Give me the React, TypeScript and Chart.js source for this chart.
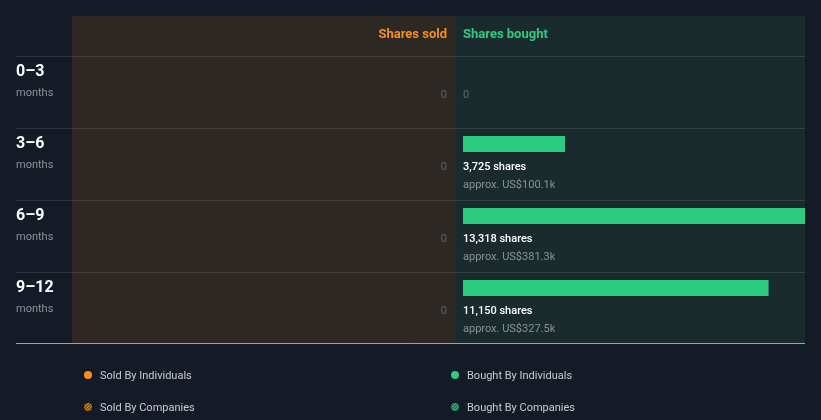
import React, { useEffect, useRef } from 'react';
import { Chart, registerables } from 'chart.js';

Chart.register(...registerables);

// ---- data ----
const periods = ['0–3', '3–6', '6–9', '9–12'];
const periodUnit = 'months';
const sharesSold = [0, 0, 0, 0];
const sharesBought = [0, 3725, 13318, 11150];
const boughtLabels = ['0', '3,725 shares', '13,318 shares', '11,150 shares'];
const boughtValues = ['', 'approx. US$100.1k', 'approx. US$381.3k', 'approx. US$327.5k'];
const headerSold = 'Shares sold';
const headerBought = 'Shares bought';
const legendSold = ['Sold By Individuals', 'Sold By Companies'];
const legendBought = ['Bought By Individuals', 'Bought By Companies'];

// ---- style ----
const BG = '#151b26';
const SOLD_BG = '#2d2823';
const BOUGHT_BG = '#1a2b2e';
const GREEN = '#2ecc80';
const ORANGE = '#f5901d';
const FONT = 'Roboto, "Noto Sans", sans-serif';
const X_MAX = 12480;
const BAR_OFFSET = 16 / 72;

const layoutPlugin = {
  id: 'layoutPlugin',
  beforeDatasetsDraw(chart: any) {
    const { ctx, chartArea } = chart;
    const y = chart.scales.y;
    const top = y.getPixelForValue(0);
    const bottom = y.getPixelForValue(periods.length);
    const headTop = top - 40;
    ctx.save();
    ctx.fillStyle = BG;
    ctx.fillRect(0, 0, chart.width, chart.height);
    // panels
    const mid = chartArea.left - 8;
    ctx.fillStyle = SOLD_BG;
    ctx.fillRect(72, headTop, mid - 72, bottom - headTop);
    ctx.fillStyle = BOUGHT_BG;
    ctx.fillRect(mid, headTop, chartArea.right - mid, bottom - headTop);
    // separators
    ctx.strokeStyle = 'rgba(255,255,255,0.11)';
    ctx.lineWidth = 1;
    for (let i = 0; i < periods.length; i++) {
      const py = Math.round(y.getPixelForValue(i)) + 0.5;
      ctx.beginPath();
      ctx.moveTo(16, py);
      ctx.lineTo(chartArea.right, py);
      ctx.stroke();
    }
    ctx.strokeStyle = '#9ea3a8';
    const by = Math.round(bottom) - 0.5;
    ctx.beginPath();
    ctx.moveTo(16, by);
    ctx.lineTo(chartArea.right, by);
    ctx.stroke();
    ctx.restore();
  },
  afterDatasetsDraw(chart: any) {
    const { ctx, chartArea } = chart;
    const y = chart.scales.y;
    const top = y.getPixelForValue(0);
    const mid = chartArea.left - 8;
    ctx.save();
    ctx.textBaseline = 'middle';
    // headers
    ctx.font = `bold 13px ${FONT}`;
    ctx.fillStyle = ORANGE;
    ctx.textAlign = 'right';
    ctx.fillText(headerSold, mid - 8, top - 21);
    ctx.fillStyle = GREEN;
    ctx.textAlign = 'left';
    ctx.fillText(headerBought, chartArea.left, top - 21);

    periods.forEach((p, i) => {
      const rt = y.getPixelForValue(i);
      ctx.textAlign = 'left';
      ctx.font = `bold 16px ${FONT}`;
      ctx.fillStyle = '#ffffff';
      ctx.fillText(p, 16, rt + 16);
      ctx.font = `11px ${FONT}`;
      ctx.fillStyle = '#8c9199';
      ctx.fillText(periodUnit, 16, rt + 37);

      // sold
      ctx.textAlign = 'right';
      ctx.fillStyle = '#5f6266';
      ctx.font = `11px ${FONT}`;
      ctx.fillText(String(sharesSold[i]), mid - 8, rt + 39);

      // bought
      ctx.textAlign = 'left';
      if (sharesBought[i] === 0) {
        ctx.fillStyle = '#5d6a6c';
        ctx.fillText(boughtLabels[i], chartArea.left, rt + 39);
      } else {
        ctx.fillStyle = '#ffffff';
        ctx.font = `500 11px ${FONT}`;
        ctx.fillText(boughtLabels[i], chartArea.left, rt + 39);
        ctx.fillStyle = '#8a9396';
        ctx.font = `11px ${FONT}`;
        ctx.fillText(boughtValues[i], chartArea.left, rt + 57);
      }
    });

    // legend
    const rows = [376, 408];
    const cols = [
      { x: 88, color: ORANGE, dark: '#4a3018', items: legendSold },
      { x: mid, color: GREEN, dark: '#1c4a36', items: legendBought },
    ];
    cols.forEach((c) => {
      c.items.forEach((label, k) => {
        const cy = rows[k] - 1;
        ctx.save();
        ctx.beginPath();
        ctx.arc(c.x, cy, 4, 0, Math.PI * 2);
        if (k === 0) {
          ctx.fillStyle = c.color;
          ctx.fill();
        } else {
          ctx.fillStyle = c.dark;
          ctx.fill();
          ctx.clip();
          ctx.strokeStyle = c.color;
          ctx.lineWidth = 1.2;
          for (let d = -6; d <= 6; d += 3) {
            ctx.beginPath();
            ctx.moveTo(c.x - 5 + d, cy + 5);
            ctx.lineTo(c.x + 5 + d, cy - 5);
            ctx.stroke();
          }
        }
        ctx.restore();
        ctx.fillStyle = '#c9ccd1';
        ctx.font = `11px ${FONT}`;
        ctx.textAlign = 'left';
        ctx.fillText(label, c.x + 12, rows[k]);
      });
    });
    ctx.restore();
  },
};

export default function App() {
  const ref = useRef<HTMLCanvasElement>(null);
  useEffect(() => {
    if (!ref.current) return;
    const chart = new Chart(ref.current, {
      type: 'bar',
      data: {
        datasets: [
          {
            label: headerBought,
            data: sharesBought.map((v, i) => ({ x: v, y: i + BAR_OFFSET })) as any,
            backgroundColor: (c: any) => (c.raw && c.raw.x > 0 ? GREEN : 'rgba(0,0,0,0)'),
            borderWidth: 0,
            inflateAmount: 0,
            barThickness: 16,
          } as any,
        ],
      },
      options: {
        indexAxis: 'y',
        animation: false,
        responsive: false,
        maintainAspectRatio: false,
        events: [],
        layout: { padding: { left: 463, right: 16, top: 56, bottom: 76 } },
        scales: {
          x: { type: 'linear', min: 0, max: X_MAX, display: false, offset: false },
          y: { type: 'linear', min: 0, max: periods.length, reverse: true, display: false, offset: false },
        },
        plugins: { legend: { display: false }, tooltip: { enabled: false } },
      },
      plugins: [layoutPlugin],
    });
    return () => chart.destroy();
  }, []);
  return (
    <div style={{ position: 'fixed', left: 0, top: 0, width: 821, height: 420, background: BG }}>
      <canvas ref={ref} width={821} height={420} style={{ display: 'block', width: 821, height: 420 }} />
    </div>
  );
}
